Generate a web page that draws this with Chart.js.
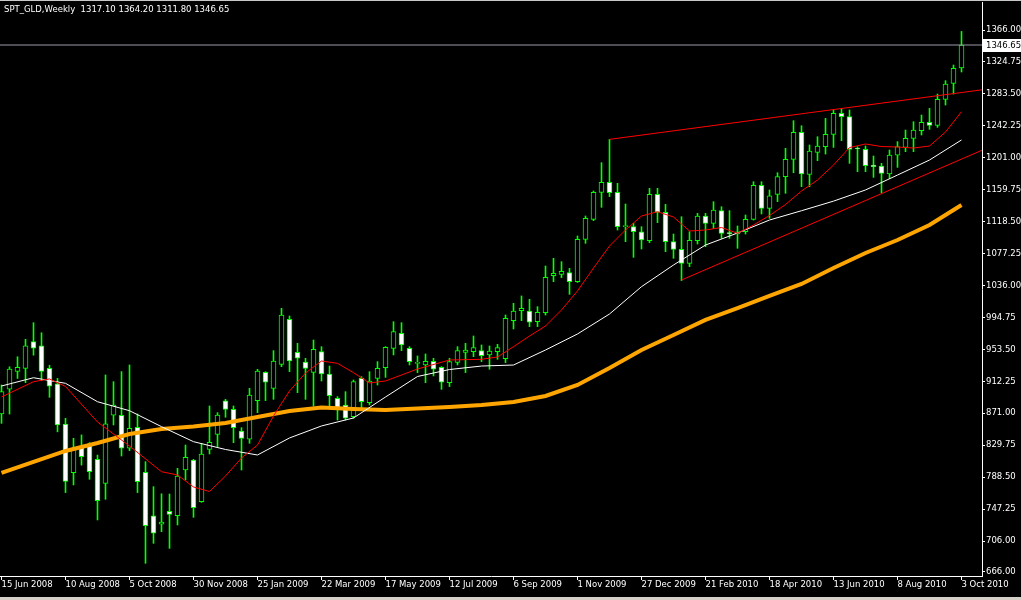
<!DOCTYPE html>
<html>
<head>
<meta charset="utf-8">
<script src="https://cdn.jsdelivr.net/npm/chart.js@4.4.1/dist/chart.umd.min.js"></script>
<style>
  html, body { margin: 0; padding: 0; background: #000; overflow: hidden; }
  #wrap { width: 1021px; height: 600px; position: relative; }
</style>
</head>
<body>
<div id="wrap"><canvas id="chart" width="1021" height="600"></canvas></div>
<script>
// weekly candles, 15 Jun 2008 .. 3 Oct 2010 (index = week number)
const opens = [870, 902, 925, 929, 963.5, 958, 929, 909, 857, 794.3,
  827, 828.8, 811.5, 780.5, 868.4, 868.4, 825.8, 852.9, 794.7, 738.4,
  727.6, 744.3, 738.8, 797.7, 810.6, 756.8, 824.4, 843.8, 886.9, 876.1,
  848.1, 837.4, 887.3, 923.9, 903.2, 934.2, 992.3, 949.7, 937.2, 923.9,
  950.6, 921.7, 890.3, 881.7, 866.6, 916.1, 884.7, 916.1, 929.9, 954.9,
  974.3, 954.9, 935.5, 933.4, 938.1, 930.3, 910.5, 936.8, 949.7, 950.6,
  951.9, 946.3, 950.6, 941.6, 990.6, 1003.5, 1003.1, 989.3, 1000.9, 1048.7,
  1050.4, 1052.6, 1041, 1095.6, 1121.5, 1156.3, 1169.3, 1156.3, 1112, 1112,
  1105.5, 1093.9, 1153.8, 1130.5, 1092.6, 1082.7, 1064.6, 1093.9, 1125.8, 1116.3,
  1132.7, 1103.4, 1102.5, 1105.5, 1121.5, 1165.4, 1135.7, 1153.8, 1176.6, 1199,
  1233.8, 1179.6, 1208, 1215.3, 1231.2, 1258.4, 1254.1, 1212.7, 1211.9, 1191.6,
  1190.3, 1180, 1204.5, 1214.4, 1226.1, 1236, 1246.7, 1242.9, 1276.4, 1297.1,
  1317.1];
const highs = [907.5, 931, 944, 966.5, 988, 975, 933, 916, 864.5, 838.7,
  843, 833, 817, 920.5, 911.8, 924.8, 933.4, 870.1, 808.5, 776.2,
  767, 766.7, 799.9, 830, 811.5, 832.2, 880.4, 871.8, 889, 880.4,
  852.4, 903.2, 927.8, 924.7, 951.9, 1006.5, 996.6, 961.3, 942, 965.6,
  957, 932, 892.5, 898.9, 914, 918.3, 924.7, 937.7, 957, 989.3,
  988, 957, 945, 947.6, 942, 931.2, 942, 957, 961.3, 970.8,
  959.2, 957.9, 960, 998, 1013, 1022.5, 1018.2, 1008.7, 1061.2, 1071.1,
  1066.8, 1058.2, 1100, 1125.8, 1158.1, 1194.7, 1224.8, 1168, 1141.3, 1116.3,
  1112, 1161.5, 1161.5, 1140.8, 1102.5, 1124.9, 1105.5, 1129.2, 1129.2, 1144.3,
  1137.8, 1132.7, 1112.9, 1127.1, 1170.1, 1170.1, 1159.4, 1181.7, 1213.2, 1248.9,
  1242.4, 1217.5, 1228.2, 1251.9, 1262.7, 1264.8, 1262.7, 1215.3, 1216.2, 1203.3,
  1193.8, 1211, 1221.8, 1236.8, 1247.6, 1256.2, 1264.8, 1283.3, 1300.6, 1320.8,
  1364.2];
const lows = [858, 870, 916, 910.5, 946, 913, 891.6, 847, 768.5, 778.4,
  804, 785.7, 733.2, 759.9, 855.9, 815.8, 822.7, 768.5, 677.2, 703,
  718, 696.5, 726.7, 784.8, 736.6, 756, 818.4, 827.9, 865.8, 833,
  797.7, 832.2, 871.8, 887.3, 889, 931.2, 924.7, 897.6, 889, 880.4,
  912.7, 880.4, 862.3, 862.3, 864.5, 877.4, 881.7, 907.5, 917.4, 946.3,
  951.9, 933.4, 923.5, 910.5, 919.2, 901.9, 905.4, 933.4, 923.5, 944.1,
  937.7, 927.8, 940.7, 936.4, 979.9, 990.6, 982.9, 982.9, 997.9, 1041,
  1046.1, 1024.6, 1040, 1090.5, 1119.7, 1137, 1150.8, 1107.7, 1092.6, 1072.4,
  1083.2, 1091.3, 1117.2, 1079.7, 1071.1, 1042.3, 1060.3, 1089.6, 1086.2, 1109.8,
  1096.9, 1096.9, 1084.1, 1102.5, 1120.6, 1128.4, 1122.8, 1144.3, 1155.1, 1181.7,
  1163.7, 1163.6, 1197.2, 1205.8, 1214.4, 1223.1, 1193.8, 1183, 1183, 1175.7,
  1155.9, 1174.4, 1188.6, 1208.9, 1208.9, 1230.4, 1237.7, 1240.3, 1269.1, 1283.3,
  1311.8];
const closes = [899, 928, 930.4, 958, 955, 925, 906, 856, 783, 824.5,
  815, 795.6, 758, 857.2, 881.7, 825.8, 851.6, 782.7, 725.9, 716,
  730.6, 740.5, 790, 814.1, 749.1, 818.4, 833.5, 868.8, 876.1, 852.4,
  838.6, 894.6, 925.6, 911, 938.5, 997.9, 938.5, 942, 929, 953.6,
  921.7, 893.7, 877.4, 864.5, 911.8, 886, 912.7, 929, 956.2, 976.4,
  959.2, 937.7, 935.9, 938.1, 927.8, 911, 937.7, 951.9, 952.7, 955.7,
  945.4, 951.4, 955.7, 993.6, 1003.1, 1006.6, 988.5, 1001.4, 1046.6, 1051.7,
  1054.3, 1041, 1095.6, 1122.8, 1156.3, 1169.3, 1155.9, 1112, 1112.4, 1105.5,
  1094.8, 1153.8, 1130.5, 1092.6, 1082.7, 1064.6, 1094.3, 1125.8, 1116.3, 1133.5,
  1103.4, 1103, 1105.5, 1121.5, 1165.4, 1135.7, 1152, 1176.6, 1199, 1233.8,
  1180, 1209.7, 1216.2, 1231.2, 1258.4, 1254.1, 1211.9, 1212.3, 1190.8, 1189.5,
  1180.9, 1204.5, 1215.3, 1226.1, 1236.8, 1246.7, 1242.9, 1276.4, 1296.2, 1316.5,
  1346.65];

// moving averages
const redIdx = [0, 4, 6, 8, 12, 16, 20, 22, 24, 26, 28, 30, 32, 34, 36, 38, 40, 42, 44, 46,
  48, 50, 52, 56, 60, 62, 64, 66, 68, 70, 72, 74, 76, 78, 80, 82, 84, 86, 88, 90,
  92, 94, 96, 98, 100, 102, 104, 106, 108, 110, 112, 114, 116, 118, 120];
const redMA = [892.0, 911.8, 915.3, 905.6, 859.7, 828.7, 795.5, 791.3, 775.8, 769.9,
  790, 813.2, 830, 867.5, 899.8, 923, 938.5, 935.5, 923.4, 910.1,
  912.7, 920.4, 928.2, 939.8, 940.7, 943.7, 957, 970.8, 983.7, 1004.4,
  1029, 1058.6, 1087, 1107.7, 1125.8, 1131.3, 1124.5, 1106.4, 1107.7, 1110.9,
  1103.4, 1114.2, 1126.4, 1140.6, 1158.1, 1172.3, 1191.6, 1214.2, 1218.8, 1215.5,
  1214.9, 1213.6, 1216.2, 1234.3, 1260.5];
const slowIdx = [0, 4, 8, 12, 16, 20, 24, 28, 32, 36, 40, 44, 48, 52, 56, 60,
  64, 68, 72, 76, 80, 84, 88, 92, 96, 100, 104, 108, 112, 116, 120];
const whiteMA = [906.2, 916.9, 909.7, 885.9, 874.3, 853.7, 834.3, 824.2, 817.1, 839.1,
  854.6, 864.9, 892.0, 918.5, 927.5, 932.0, 933.3, 952.7, 973.4, 999.2,
  1034.5, 1062.5, 1088.3, 1103.8, 1120.6, 1132.6, 1145, 1159.4, 1178.7, 1198.1,
  1224];
const orangeMA = [793.9, 808.1, 822.3, 832.6, 844.2, 850.7, 853.9, 858.4, 866.2, 873.9,
  878.5, 876.5, 875.2, 877.2, 879.1, 881.7, 885.6, 893.3, 907.5, 929.5,
  952.7, 972.1, 991.5, 1006.9, 1022.5, 1038, 1058.6, 1078, 1094.8, 1114.2,
  1140];

// hand-drawn trend lines [week, price]
const trendUpper = [[76, 1224.8], [122.56, 1288.8]];
const trendLower = [[85, 1043.1], [122.56, 1210.7]];

const tickWeeks = [0, 8, 16, 24, 32, 40, 48, 56, 64, 72, 80, 88, 96, 104, 112, 120];
const tickLabels = ['15 Jun 2008', '10 Aug 2008', '5 Oct 2008', '30 Nov 2008', '25 Jan 2009',
  '22 Mar 2009', '17 May 2009', '12 Jul 2009', '6 Sep 2009', '1 Nov 2009', '27 Dec 2009',
  '21 Feb 2010', '18 Apr 2010', '13 Jun 2010', '8 Aug 2010', '3 Oct 2010'];
const priceTicks = [1366, 1324.75, 1283.5, 1242.25, 1201, 1159.75, 1118.5, 1077.25, 1036,
  994.75, 953.5, 912.25, 871, 829.75, 788.5, 747.25, 706, 666];

const symbol = 'SPT_GLD,Weekly';
const last = closes.length - 1;
const lastClose = closes[last];

const LIME = '#00ff00';
const FONT = { family: 'DejaVu Sans', size: 8.5 };
const xMin = -0.1875, xMax = 122.5625;

const mtOverlay = {
  id: 'mtOverlay',
  afterDraw(chart) {
    const ctx = chart.ctx;
    const yPix = chart.scales.y.getPixelForValue(lastClose);
    const area = chart.chartArea;
    ctx.save();
    ctx.font = '8.5px "DejaVu Sans"';
    ctx.textBaseline = 'middle';
    // price tag of the last close
    ctx.fillStyle = '#ffffff';
    ctx.fillRect(area.right + 1, Math.round(yPix) - 6, 1021 - area.right - 1, 13);
    ctx.fillStyle = '#000000';
    ctx.fillText(lastClose.toFixed(2), area.right + 4, Math.round(yPix) + 0.5);
    // title
    ctx.fillStyle = '#ffffff';
    const ohlc = [opens[last], highs[last], lows[last], closes[last]].map(v => v.toFixed(2)).join(' ');
    ctx.fillText(symbol + '  ' + ohlc, 4, 10);
    // window chrome
    ctx.fillStyle = '#c8c8c8';
    ctx.fillRect(0, 0, 1021, 1);
    ctx.fillStyle = '#d4d0c8';
    ctx.fillRect(0, 597, 1021, 3);
    ctx.restore();
  }
};

new Chart(document.getElementById('chart'), {
  type: 'bar',
  data: {
    datasets: [
      {
        type: 'line', label: 'MA fast', order: 0,
        data: redIdx.map((x, i) => ({ x: x, y: redMA[i] })),
        borderColor: '#ff0000', borderWidth: 1, pointRadius: 0, tension: 0
      },
      {
        type: 'line', label: 'MA mid', order: 0.5,
        data: slowIdx.map((x, i) => ({ x: x, y: whiteMA[i] })),
        borderColor: '#ffffff', borderWidth: 1, pointRadius: 0, tension: 0
      },
      {
        type: 'line', label: 'MA slow', order: 1,
        data: slowIdx.map((x, i) => ({ x: x, y: orangeMA[i] })),
        borderColor: '#ffa500', borderWidth: 4, pointRadius: 0, tension: 0
      },
      {
        type: 'line', label: 'trend up', order: 0,
        data: trendUpper.map(p => ({ x: p[0], y: p[1] })),
        borderColor: '#ff0000', borderWidth: 1, pointRadius: 0
      },
      {
        type: 'line', label: 'trend low', order: 0,
        data: trendLower.map(p => ({ x: p[0], y: p[1] })),
        borderColor: '#ff0000', borderWidth: 1, pointRadius: 0
      },
      {
        type: 'line', label: 'bid', order: 0.2,
        data: [{ x: xMin, y: lastClose }, { x: xMax, y: lastClose }],
        borderColor: '#9a9aaa', borderWidth: 1, pointRadius: 0
      },
      {
        label: 'body', order: 2,
        data: opens.map((o, i) => ({ x: i, y: [o, closes[i]] })),
        backgroundColor: opens.map((o, i) => closes[i] >= o ? '#000000' : '#ffffff'),
        borderColor: LIME, borderWidth: 1, borderSkipped: false,
        barThickness: 5, grouped: false, minBarLength: 1
      },
      {
        label: 'wick', order: 3,
        data: lows.map((l, i) => ({ x: i, y: [l, highs[i]] })),
        backgroundColor: LIME, borderWidth: 0,
        barThickness: 1, grouped: false
      }
    ]
  },
  options: {
    responsive: false,
    animation: false,
    devicePixelRatio: 1,
    layout: { padding: { top: 2, left: 0, right: 0, bottom: 0 } },
    plugins: { legend: { display: false }, tooltip: { enabled: false } },
    scales: {
      x: {
        type: 'linear', min: xMin, max: xMax, offset: false,
        grid: { drawOnChartArea: false, drawTicks: true, tickLength: 4, color: '#ffffff', offset: false },
        border: { color: '#ffffff' },
        ticks: {
          color: '#ffffff', font: FONT, align: 'start', padding: 0,
          autoSkip: false, maxRotation: 0,
          callback: v => tickLabels[tickWeeks.indexOf(v)]
        },
        afterBuildTicks: s => { s.ticks = tickWeeks.map(v => ({ value: v })); },
        afterFit: s => { s.height = 24; s.paddingLeft = 0; s.paddingRight = 0; }
      },
      y: {
        type: 'linear', position: 'right', min: 660.8, max: 1402.2, beginAtZero: false,
        grid: { drawOnChartArea: false, drawTicks: true, tickLength: 3, color: '#ffffff' },
        border: { color: '#ffffff' },
        ticks: { color: '#ffffff', font: FONT, padding: 1, callback: v => v.toFixed(2) },
        afterBuildTicks: s => { s.ticks = priceTicks.map(v => ({ value: v })); },
        afterFit: s => { s.width = 39; s.paddingTop = 0; s.paddingBottom = 0; }
      }
    }
  },
  plugins: [mtOverlay]
});
</script>
</body>
</html>
